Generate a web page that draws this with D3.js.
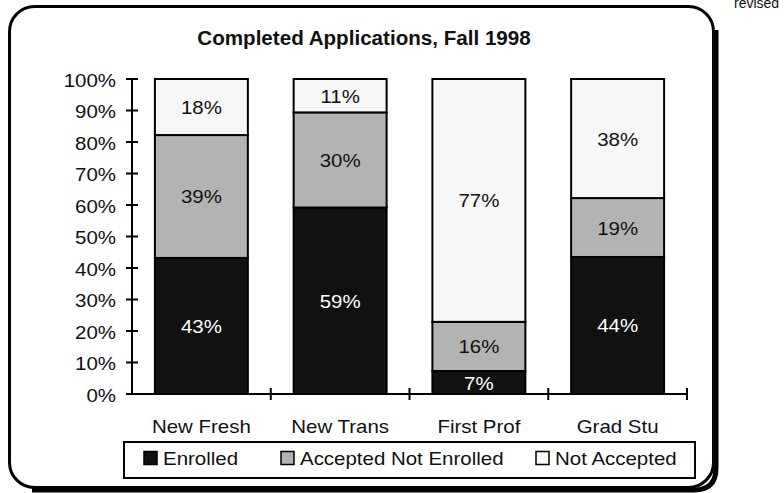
<!DOCTYPE html>
<html><head><meta charset="utf-8">
<script src="https://cdn.jsdelivr.net/npm/d3@7"></script>
<style>body{margin:0;background:#fff}svg{display:block;font-family:"Liberation Sans",Arial,sans-serif}</style>
</head><body>
<svg id="c" width="784" height="493"></svg>
<script>
const categories = ["New Fresh","New Trans","First Prof","Grad Stu"];
const seriesNames = ["Enrolled","Accepted Not Enrolled","Not Accepted"];
const enrolled = [43.2, 59.2, 7.3, 43.5];
const acceptedNotEnrolled = [39.0, 30.2, 15.6, 18.7];
const notAccepted = [17.8, 10.6, 77.1, 37.8];
const yTicks = [0,10,20,30,40,50,60,70,80,90,100];
const colors = ["#111111","#b3b3b3","#f7f7f7"];
const labelColors = ["#ffffff","#111111","#111111"];

const FS = 18.6, SX = 1.1;
const svg = d3.select("#c");
function txt(g, x, y, s, opts={}) {
  const t = g.append("text")
    .attr("transform", `translate(${x},${y}) scale(${opts.sx||SX},1)`)
    .attr("font-size", opts.fs||FS)
    .attr("text-anchor", opts.anchor||"start")
    .attr("fill", opts.fill||"#111")
    .text(s);
  if (opts.bold) t.attr("font-weight","bold");
  return t;
}

// frame with shadow
svg.append("path").attr("d","M716,30 L716,468 Q716,490 694,490 L32,490")
  .attr("fill","none").attr("stroke","#000").attr("stroke-width",5);
svg.append("rect").attr("x",9.5).attr("y",6.5).attr("width",704).attr("height",481)
  .attr("rx",25).attr("fill","none").attr("stroke","#000").attr("stroke-width",3);

txt(svg, 734, 8, "revised", {fs:14, sx:1});

txt(svg, 364, 45, "Completed Applications, Fall 1998", {fs:20, sx:1.03, bold:true, anchor:"middle"});

const x = d3.scaleBand().domain(categories).range([132,687]).paddingInner(0.33).paddingOuter(0.165);
const y = d3.scaleLinear().domain([0,100]).range([394,79]);

const table = categories.map((c,i)=>({cat:c, s0:enrolled[i], s1:acceptedNotEnrolled[i], s2:notAccepted[i]}));
const stacked = d3.stack().keys(["s0","s1","s2"])(table);

stacked.forEach((layer,li)=>{
  svg.append("g").selectAll("rect").data(layer).join("rect")
    .attr("x",d=>x(d.data.cat)).attr("width",x.bandwidth())
    .attr("y",d=>y(d[1])).attr("height",d=>y(d[0])-y(d[1]))
    .attr("fill",colors[li]).attr("stroke","#000").attr("stroke-width",2);
});
const lblG = svg.append("g");
stacked.forEach((layer,li)=>{
  layer.forEach(d=>{
    txt(lblG, x(d.data.cat)+x.bandwidth()/2, (y(d[0])+y(d[1]))/2+7, Math.round(d[1]-d[0])+"%",
      {anchor:"middle", fill:labelColors[li]});
  });
});

// y axis
const ya = svg.append("g");
ya.append("line").attr("x1",132).attr("x2",132).attr("y1",y(100)).attr("y2",y(0)).attr("stroke","#000").attr("stroke-width",2);
ya.selectAll("line.t").data(yTicks).join("line").attr("class","t")
  .attr("x1",126).attr("x2",138).attr("y1",d=>y(d)).attr("y2",d=>y(d)).attr("stroke","#000").attr("stroke-width",2);
yTicks.forEach(d=>txt(ya, 116, y(d)+7.5, d+"%", {anchor:"end"}));

// x axis
const xa = svg.append("g");
xa.append("line").attr("x1",126).attr("x2",687).attr("y1",394).attr("y2",394).attr("stroke","#000").attr("stroke-width",2);
const edges = categories.map(c=>x(c)+x.bandwidth()+x.step()*x.paddingInner()/2);
edges[edges.length-1] = x.range()[1];
xa.selectAll("line.t").data(edges).join("line").attr("class","t")
  .attr("x1",d=>d).attr("x2",d=>d).attr("y1",388).attr("y2",400).attr("stroke","#000").attr("stroke-width",2);
categories.forEach(c=>txt(xa, x(c)+x.bandwidth()/2, 433, c, {anchor:"middle"}));

// legend
const lg = svg.append("g");
lg.append("rect").attr("x",124).attr("y",442).attr("width",571).attr("height",36).attr("fill","#fff").attr("stroke","#000").attr("stroke-width",2);
const lx = [144, 281, 536];
seriesNames.forEach((n,i)=>{
  lg.append("rect").attr("x",lx[i]).attr("y",451.5).attr("width",13).attr("height",13).attr("fill",colors[i]).attr("stroke","#000").attr("stroke-width",1.5);
  txt(lg, lx[i]+19, 465, n);
});
</script>
</body></html>
